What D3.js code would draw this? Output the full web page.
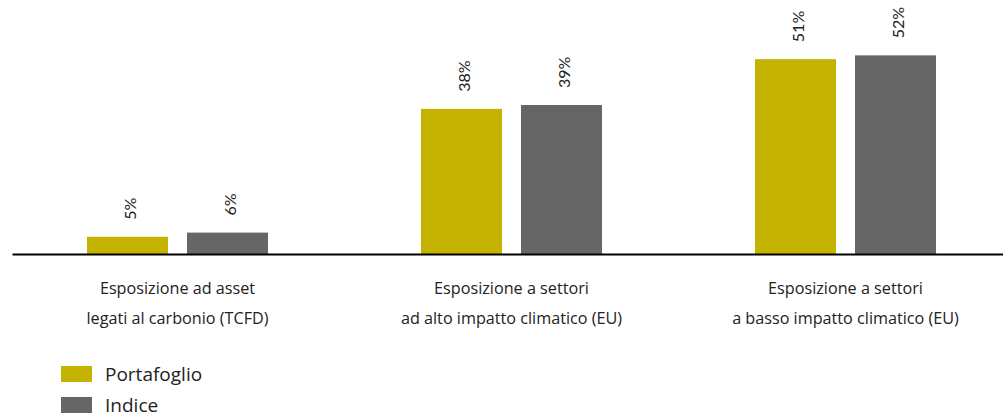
<!DOCTYPE html>
<html>
<head>
<meta charset="utf-8">
<script src="https://cdn.jsdelivr.net/npm/d3@7"></script>
<style>
  html, body { margin: 0; padding: 0; background: #fff; }
  svg { display: block; font-family: "Open Sans", "Lato", sans-serif; }
</style>
</head>
<body>
<svg id="chart" width="1003" height="418"></svg>
<script>
const categories = [
  ["Esposizione ad asset", "legati al carbonio (TCFD)"],
  ["Esposizione a settori", "ad alto impatto climatico (EU)"],
  ["Esposizione a settori", "a basso impatto climatico (EU)"]
];
const seriesNames = ["Portafoglio", "Indice"];
const portafoglio = [4.5, 38, 51];
const indice = [5.6, 39, 52];
const valueLabels = [["5%", "38%", "51%"], ["6%", "39%", "52%"]];
const colors = ["#C4B300", "#666666"];

const svg = d3.select("#chart");
const baseY = 254;

const x0 = d3.scaleBand()
  .domain(d3.range(categories.length))
  .range([10.5, 1012.5])
  .paddingInner(0.458)
  .paddingOuter(0.229);

const x1 = d3.scaleBand()
  .domain(d3.range(seriesNames.length))
  .range([0, x0.bandwidth()])
  .paddingInner(0.19)
  .paddingOuter(0);

const y = d3.scaleLinear().domain([0, 100]).range([baseY, baseY - 382]);

const series = [portafoglio, indice];

const groups = svg.append("g").selectAll("g")
  .data(categories.map((c, i) => i))
  .join("g")
  .attr("transform", i => `translate(${x0(i)},0)`);

groups.selectAll("rect")
  .data(i => series.map((s, k) => ({k, v: s[i], i})))
  .join("rect")
  .attr("x", d => x1(d.k))
  .attr("y", d => y(d.v))
  .attr("width", x1.bandwidth())
  .attr("height", d => baseY - y(d.v))
  .attr("fill", d => colors[d.k]);

groups.selectAll("text.val")
  .data(i => series.map((s, k) => ({k, v: s[i], i})))
  .join("text")
  .attr("class", "val")
  .attr("transform", d => `translate(${x1(d.k) + x1.bandwidth() / 2 + 2.5},${y(d.v) - 17}) rotate(-90)`)
  .attr("dy", "0.35em")
  .attr("text-anchor", "start")
  .attr("font-family", "Lato, 'Open Sans', sans-serif")
  .attr("font-size", 16)
  .attr("fill", "#222")
  .text(d => valueLabels[d.k][d.i]);

// baseline axis
const axis = d3.axisBottom(d3.scaleLinear().range([12, 1003])).ticks(0).tickSize(0).tickFormat("");
svg.append("g")
  .attr("transform", `translate(0,${baseY})`)
  .call(axis)
  .call(g => g.select(".domain").attr("stroke", "#000").attr("stroke-width", 2));

// category labels
const catG = svg.append("g").selectAll("text")
  .data(categories.map((c, i) => i))
  .join("text")
  .attr("x", i => x0(i) + x0.bandwidth() / 2)
  .attr("y", 294)
  .attr("text-anchor", "middle")
  .attr("font-size", 16.2)
  .attr("fill", "#222");
catG.selectAll("tspan")
  .data(i => categories[i].map((t, j) => ({t, j, i})))
  .join("tspan")
  .attr("x", d => x0(d.i) + x0.bandwidth() / 2)
  .attr("dy", d => d.j === 0 ? 0 : 30)
  .text(d => d.t);

// legend
const legend = svg.append("g").selectAll("g")
  .data(seriesNames)
  .join("g")
  .attr("transform", (d, i) => `translate(61,${366 + i * 31})`);
legend.append("rect")
  .attr("width", 31).attr("height", 16)
  .attr("fill", (d, i) => colors[i]);
legend.append("text")
  .attr("x", 44).attr("y", 8).attr("dy", "0.36em")
  .attr("font-size", 19)
  .attr("fill", "#222")
  .text(d => d);
</script>
</body>
</html>
